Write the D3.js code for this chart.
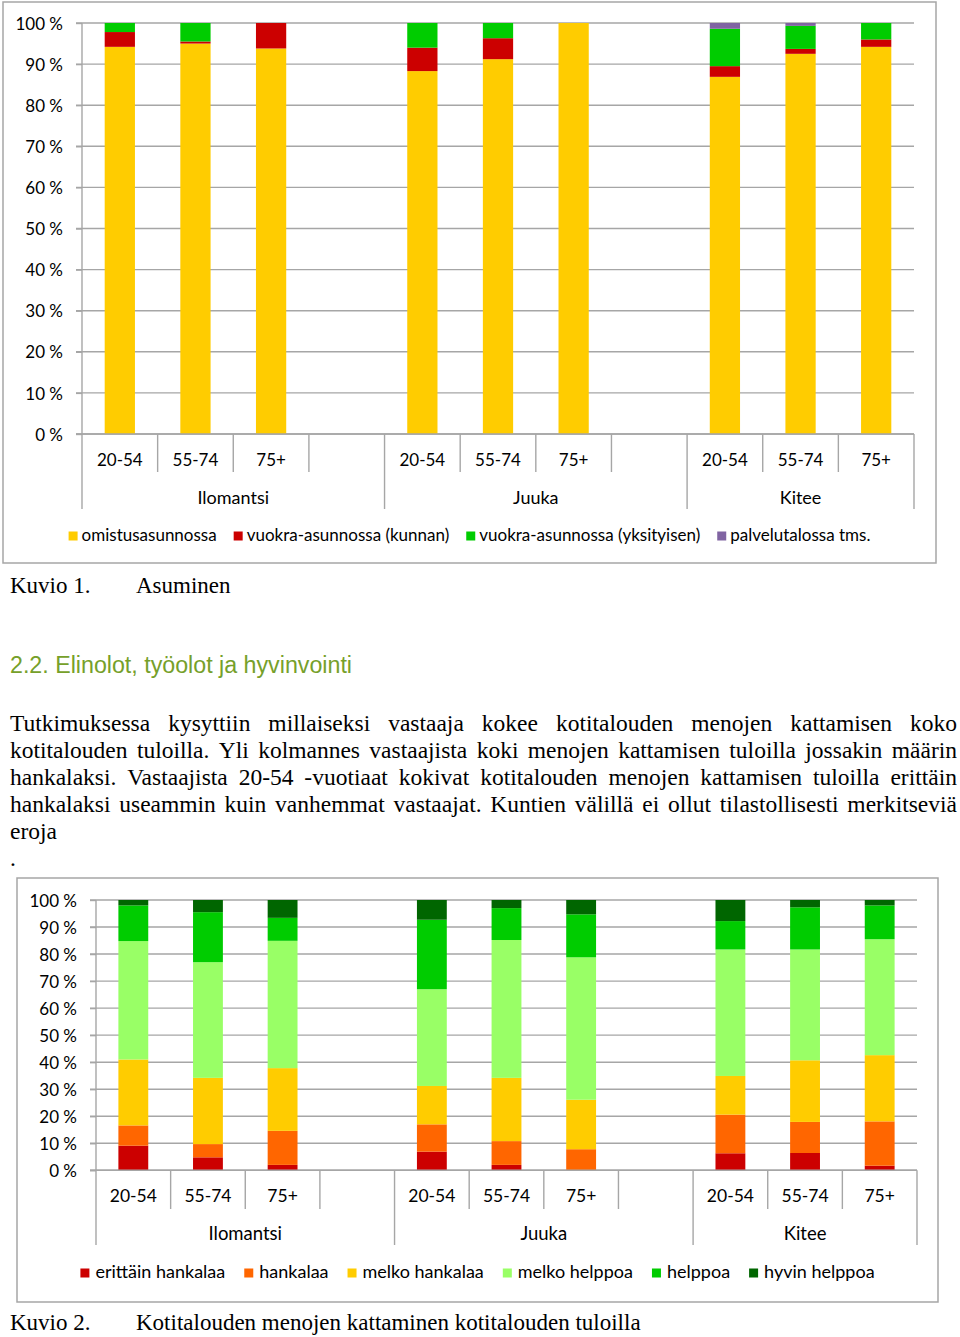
<!DOCTYPE html>
<html><head><meta charset="utf-8">
<script src="https://cdn.jsdelivr.net/npm/d3@7"></script>
<style>
html,body{margin:0;padding:0;background:#fff;}
svg{display:block;}
</style></head>
<body>
<svg id="page" width="960" height="1337"></svg>
<script>
// ---------- DATA ----------
const municipalities = ["Ilomantsi", "Juuka", "Kitee"];
const ageGroups = ["20-54", "55-74", "75+"];
const yTicks = [0, 10, 20, 30, 40, 50, 60, 70, 80, 90, 100];

// Chart 1: Asuminen
const housingSeries = ["omistusasunnossa", "vuokra-asunnossa (kunnan)", "vuokra-asunnossa (yksityisen)", "palvelutalossa tms."];
const omistusasunnossa = [94.2, 95.0, 93.8, 88.3, 91.2, 100, 86.9, 92.5, 94.2];
const vuokraKunnan     = [3.6, 0.5, 6.2, 5.7, 5.1, 0, 2.6, 1.2, 1.8];
const vuokraYksityisen = [2.2, 4.5, 0, 6.0, 3.7, 0, 9.1, 5.6, 4.0];
const palvelutalossa   = [0, 0, 0, 0, 0, 0, 1.4, 0.7, 0];

// Chart 2: Kotitalouden menojen kattaminen
const costSeries = ["erittäin hankalaa", "hankalaa", "melko hankalaa", "melko helppoa", "helppoa", "hyvin helppoa"];
const erittainHankalaa = [9.1, 4.8, 2.0, 6.9, 2.0, 0, 6.3, 6.4, 1.7];
const hankalaa         = [7.5, 4.9, 12.6, 10.1, 8.8, 7.8, 14.3, 11.5, 16.4];
const melkoHankalaa    = [24.4, 24.5, 23.2, 14.2, 23.4, 18.3, 14.3, 22.8, 24.5];
const melkoHelppoa     = [43.8, 42.8, 47.1, 35.8, 51.0, 52.7, 46.8, 41.0, 42.9];
const helppoa          = [13.2, 18.5, 8.5, 25.7, 11.8, 15.9, 10.5, 15.6, 12.5];
const hyvinHelppoa     = [2.0, 4.5, 6.6, 7.3, 3.0, 5.3, 7.8, 2.7, 2.0];

// Texts
const heading = "2.2. Elinolot, työolot ja hyvinvointi";
const paragraphLines = [
  "Tutkimuksessa kysyttiin millaiseksi vastaaja kokee kotitalouden menojen kattamisen koko",
  "kotitalouden tuloilla. Yli kolmannes vastaajista koki menojen kattamisen tuloilla jossakin määrin",
  "hankalaksi. Vastaajista 20-54 -vuotiaat kokivat kotitalouden menojen kattamisen tuloilla erittäin",
  "hankalaksi useammin kuin vanhemmat vastaajat. Kuntien välillä ei ollut tilastollisesti merkitseviä",
  "eroja",
  "."
];
const caption1 = ["Kuvio 1.", "Asuminen"];
const caption2 = ["Kuvio 2.", "Kotitalouden menojen kattaminen kotitalouden tuloilla"];

// ---------- STYLE ----------
const housingColors = ["#FFCC00", "#CC0000", "#00CC00", "#8064A2"];
const costColors = ["#CC0000", "#FF6600", "#FFCC00", "#99FF66", "#00CC00", "#006600"];
const GRID = "#A6A6A6";
const FONT = "Lato, 'Open Sans', sans-serif";
const SERIF = "'Liberation Serif', 'Times New Roman', serif";

const svg = d3.select("#page");

function slotKeys() {
  const keys = [];
  municipalities.forEach((m, gi) => {
    ageGroups.forEach(a => keys.push(m + "|" + a));
    if (gi < municipalities.length - 1) keys.push(m + "|blank");
  });
  return keys;
}

function drawChart(cfg) {
  const g = svg.append("g");
  g.append("rect").attr("x", cfg.frame[0]).attr("y", cfg.frame[1])
    .attr("width", cfg.frame[2] - cfg.frame[0]).attr("height", cfg.frame[3] - cfg.frame[1])
    .attr("fill", "#fff").attr("stroke", GRID).attr("stroke-width", 1.5);

  const keys = slotKeys();
  const x = d3.scaleBand().domain(keys).range([cfg.x0, cfg.x1]).paddingInner(0.6).paddingOuter(0.3);
  const y = d3.scaleLinear().domain([0, 100]).range([cfg.y0, cfg.y100]);
  const step = x.step();

  g.append("g").selectAll("line").data(yTicks).join("line")
    .attr("x1", cfg.x0 - 6).attr("x2", cfg.x1)
    .attr("y1", d => y(d)).attr("y2", d => y(d))
    .attr("stroke", GRID).attr("stroke-width", 1.4);

  const yAxis = d3.axisLeft(y).tickValues(yTicks).tickSize(6).tickFormat(d => d + " %");
  const ya = g.append("g").attr("transform", `translate(${cfg.x0},0)`).call(yAxis);
  ya.select(".domain").remove();
  ya.selectAll(".tick line").attr("stroke", GRID).attr("stroke-width", 1.4);
  ya.selectAll(".tick text").attr("font-family", FONT).attr("font-size", cfg.yfs)
    .attr("fill", "#000").attr("x", -cfg.labelGap).attr("dy", "0.36em");

  const rows = keys.filter(k => !k.endsWith("blank")).map((k, i) => {
    const r = { key: k };
    cfg.series.forEach((s, si) => r[s] = cfg.values[si][i]);
    return r;
  });
  const stacked = d3.stack().keys(cfg.series)(rows);
  g.append("g").selectAll("g").data(stacked).join("g")
    .attr("fill", (d, i) => cfg.colors[i])
    .selectAll("rect").data(d => d).join("rect")
    .attr("x", d => x(d.data.key)).attr("width", x.bandwidth())
    .attr("y", d => y(d[1])).attr("height", d => Math.max(0, y(d[0]) - y(d[1])));

  const yTop = y(100);
  g.append("line").attr("x1", cfg.x0).attr("x2", cfg.x0).attr("y1", yTop).attr("y2", cfg.yGroupEnd)
    .attr("stroke", GRID).attr("stroke-width", 1.4);
  g.append("line").attr("x1", cfg.x0 - 6).attr("x2", cfg.x1).attr("y1", cfg.y0).attr("y2", cfg.y0)
    .attr("stroke", GRID).attr("stroke-width", 1.4);

  keys.forEach((k, i) => {
    const xs = cfg.x0 + step * (i + 1);
    const isGroupEnd = (i === keys.length - 1) || k.endsWith("blank");
    g.append("line").attr("x1", xs).attr("x2", xs).attr("y1", cfg.y0)
      .attr("y2", isGroupEnd ? cfg.yGroupEnd : cfg.yTickEnd)
      .attr("stroke", GRID).attr("stroke-width", 1.4);
  });

  g.append("g").selectAll("text").data(keys.filter(k => !k.endsWith("blank"))).join("text")
    .attr("x", d => x(d) + x.bandwidth() / 2).attr("y", cfg.catY)
    .attr("text-anchor", "middle").attr("font-family", FONT).attr("font-size", cfg.cfs)
    .text(d => d.split("|")[1]);

  municipalities.forEach((m, gi) => {
    const first = x(m + "|" + ageGroups[0]) - step * 0.3;
    const lastKey = gi < municipalities.length - 1 ? m + "|blank" : m + "|" + ageGroups[2];
    const last = x(lastKey) - step * 0.3 + step;
    g.append("text").attr("x", (first + last) / 2).attr("y", cfg.groupY)
      .attr("text-anchor", "middle").attr("font-family", FONT).attr("font-size", cfg.gfs).text(m);
  });

  const lg = g.append("g");
  let cx = 0;
  cfg.series.forEach((s, i) => {
    const it = lg.append("g");
    it.append("rect").attr("x", 0).attr("y", -9.5).attr("width", 9).attr("height", 9).attr("fill", cfg.colors[i]);
    const t = it.append("text").attr("x", cfg.legSq).attr("y", 0).attr("font-family", FONT)
      .attr("font-size", cfg.lfs).text(s);
    const w = t.node().getComputedTextLength();
    it.attr("transform", `translate(${cx},0)`);
    cx += cfg.legSq + w + cfg.legGap;
  });
  const total = cx - cfg.legGap;
  const center = (cfg.frame[0] + cfg.frame[2]) / 2;
  lg.attr("transform", `translate(${center - total / 2},${cfg.legY})`);
}

drawChart({
  frame: [3, 2, 936, 563],
  x0: 82, x1: 914, y0: 434, y100: 23,
  yTickEnd: 472, yGroupEnd: 509,
  catY: 466, groupY: 504, legY: 541,
  yfs: 17, cfs: 17, gfs: 18, lfs: 17, labelGap: 19, legSq: 13, legGap: 17,
  series: housingSeries,
  values: [omistusasunnossa, vuokraKunnan, vuokraYksityisen, palvelutalossa],
  colors: housingColors
});

drawChart({
  frame: [17, 878, 938, 1302],
  x0: 96, x1: 917, y0: 1170.3, y100: 900,
  yTickEnd: 1209, yGroupEnd: 1245,
  catY: 1202, groupY: 1240, legY: 1278,
  yfs: 17, cfs: 17.5, gfs: 18.5, lfs: 18, labelGap: 19, legSq: 15, legGap: 19,
  series: costSeries,
  values: [erittainHankalaa, hankalaa, melkoHankalaa, melkoHelppoa, helppoa, hyvinHelppoa],
  colors: costColors
});

function caption(c, yb) {
  svg.append("text").attr("x", 10).attr("y", yb).attr("font-family", SERIF).attr("font-size", 23).text(c[0]);
  svg.append("text").attr("x", 136).attr("y", yb).attr("font-family", SERIF).attr("font-size", 23).text(c[1]);
}
caption(caption1, 593);
caption(caption2, 1330);

svg.append("text").attr("x", 10).attr("y", 673)
  .attr("font-family", "'Liberation Sans', Arial, sans-serif")
  .attr("font-size", 23).attr("fill", "#76A02A")
  .attr("textLength", 342).attr("lengthAdjust", "spacingAndGlyphs").text(heading);

const pLeft = 10, pRight = 957, pTop = 731, pLH = 27, pFS = 23.5;
paragraphLines.forEach((line, li) => {
  const yb = pTop + li * pLH;
  const justify = li < 4;
  const t = svg.append("text").attr("y", yb).attr("font-family", SERIF).attr("font-size", pFS);
  if (!justify) { t.attr("x", pLeft).text(line); return; }
  const words = line.split(" ");
  const widths = words.map(w => {
    const tmp = svg.append("text").attr("font-family", SERIF).attr("font-size", pFS).text(w);
    const ww = tmp.node().getComputedTextLength(); tmp.remove(); return ww;
  });
  const sumW = d3.sum(widths);
  const gap = (pRight - pLeft - sumW) / (words.length - 1);
  let xx = pLeft;
  words.forEach((w, i) => {
    t.append("tspan").attr("x", xx).text(w);
    xx += widths[i] + gap;
  });
});
</script>
</body></html>
